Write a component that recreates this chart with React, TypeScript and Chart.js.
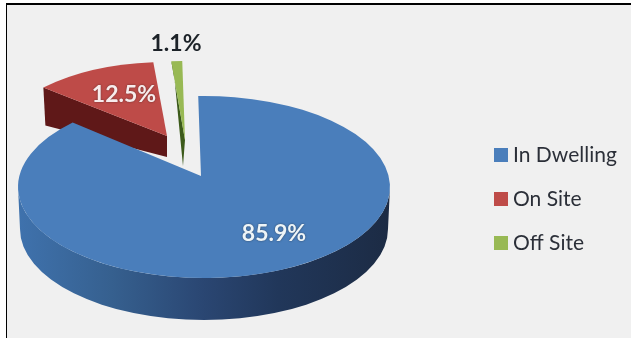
import React, { useEffect, useRef } from "react";
import { Chart, registerables } from "chart.js";

Chart.register(...registerables);

const categories = ["In Dwelling", "On Site", "Off Site"];
const shares = [85.9, 12.5, 1.1];
const topColors = ["#4a7ebb", "#be4b48", "#98b954"];
const labelColors = ["#eef5f8", "#f8ecec", "#1c2228"];

const FONT = "Lato, 'Open Sans', sans-serif";
const WIDTH = 631;
const HEIGHT = 338;

// Projected geometry of each exploded slice: ellipse of the top face, apex, and extrusion depths.
const sliceGeometry = [
  { cx: 204, cy: 187, rx: 186, ry: 91, vx: 201, vy: 176, squash: 0.5, depth: 42, cutOuter: 0, cutInner: 0, cutDx: 0, cutFill: "#2a4672" },
  { cx: 167, cy: 146, rx: 172, ry: 84, vx: 167, vy: 136, squash: 0.47, depth: 30, cutOuter: 38, cutInner: 21, cutDx: 0, cutFill: "#5f1818" },
  { cx: 186, cy: 152, rx: 176, ry: 91, vx: 185, vy: 140, squash: 0.5, depth: 30, cutOuter: 5, cutInner: 26, cutDx: -2, cutFill: "#3c5a1a" },
];

const labelAnchors = [
  { x: 274, y: 234, shadow: true },
  { x: 124, y: 95, shadow: true },
  { x: 176, y: 44, shadow: false },
];
const legendAnchor = { x: 494, y: 155, step: 44, box: 14, textX: 513 };

type Geo = (typeof sliceGeometry)[number];

// Point where a ray from the apex, at the slice angle, meets the top-face ellipse.
function rim(g: Geo, angle: number) {
  const dx = Math.cos(angle);
  const dy = Math.sin(angle) * g.squash;
  const ox = (g.vx - g.cx) / g.rx;
  const oy = (g.vy - g.cy) / g.ry;
  const ux = dx / g.rx;
  const uy = dy / g.ry;
  const a = ux * ux + uy * uy;
  const b = 2 * (ox * ux + oy * uy);
  const c = ox * ox + oy * oy - 1;
  const t = (-b + Math.sqrt(b * b - 4 * a * c)) / (2 * a);
  const x = g.vx + t * dx;
  const y = g.vy + t * dy;
  return { x, y, phi: Math.atan2((y - g.cy) / g.ry, (x - g.cx) / g.rx) };
}

const pie3d = {
  id: "pie3d",
  beforeDraw(chart: Chart) {
    const { ctx } = chart;
    ctx.save();
    ctx.fillStyle = "#ffffff";
    ctx.fillRect(0, 0, WIDTH, HEIGHT);
    ctx.fillStyle = "#f0f0f0";
    ctx.fillRect(6, 3, WIDTH - 6, HEIGHT - 3);
    ctx.fillStyle = "#000000";
    ctx.fillRect(6, 3, WIDTH - 6, 2);
    ctx.fillRect(6, 3, 1, HEIGHT - 3);
    ctx.restore();
  },
  beforeDatasetsDraw(chart: Chart) {
    const { ctx } = chart;
    const arcs = chart.getDatasetMeta(0).data as any[];
    ctx.save();
    // Painted far to near so the large slice overlaps the exploded ones.
    [2, 1, 0].forEach((i) => {
      const g = sliceGeometry[i];
      const start = rim(g, arcs[i].startAngle);
      const end = rim(g, arcs[i].endAngle);
      const phiStart = start.phi;
      let phiEnd = end.phi;
      while (phiEnd < phiStart) phiEnd += Math.PI * 2;

      if (g.cutOuter > 0) {
        // Exposed cut face under the slice's counter-clockwise edge.
        ctx.fillStyle = g.cutFill;
        ctx.beginPath();
        ctx.moveTo(start.x, start.y);
        ctx.lineTo(g.vx, g.vy);
        ctx.lineTo(g.vx + g.cutDx, g.vy + g.cutInner);
        ctx.lineTo(start.x + 2, start.y + g.cutOuter);
        ctx.closePath();
        ctx.fill();
      }

      const wallFrom = Math.max(phiStart, 0);
      const wallTo = Math.min(phiEnd, Math.PI);
      if (wallTo > wallFrom) {
        // Curved outer wall, darkening from left to right.
        const grad = ctx.createLinearGradient(g.cx - g.rx, 0, g.cx + g.rx, 0);
        grad.addColorStop(0, "#3f72ad");
        grad.addColorStop(0.25, "#36608f");
        grad.addColorStop(0.5, "#2a4672");
        grad.addColorStop(0.7, "#21375a");
        grad.addColorStop(1, "#1c2b44");
        ctx.fillStyle = grad;
        ctx.beginPath();
        ctx.ellipse(g.cx, g.cy, g.rx, g.ry, 0, wallFrom, wallTo);
        ctx.ellipse(g.cx, g.cy + g.depth, g.rx - 2, g.ry, 0, wallTo, wallFrom, true);
        ctx.closePath();
        ctx.fill();
      }

      ctx.fillStyle = arcs[i].options.backgroundColor;
      ctx.beginPath();
      ctx.moveTo(g.vx, g.vy);
      ctx.lineTo(start.x, start.y);
      ctx.ellipse(g.cx, g.cy, g.rx, g.ry, 0, phiStart, phiEnd);
      ctx.closePath();
      ctx.fill();
    });
    ctx.restore();
    return false;
  },
  afterDraw(chart: Chart) {
    const { ctx } = chart;
    const values = chart.data.datasets[0].data as number[];
    ctx.save();
    ctx.textBaseline = "middle";

    ctx.font = `700 23px ${FONT}`;
    ctx.textAlign = "center";
    values.forEach((v, i) => {
      const a = labelAnchors[i];
      ctx.shadowColor = a.shadow ? "rgba(30,30,30,0.6)" : "transparent";
      ctx.shadowBlur = a.shadow ? 2 : 0;
      ctx.fillStyle = labelColors[i];
      ctx.fillText(`${v.toFixed(1)}%`, a.x, a.y);
    });
    ctx.shadowColor = "transparent";
    ctx.shadowBlur = 0;

    ctx.textAlign = "left";
    ctx.font = `400 21px ${FONT}`;
    (chart.data.labels as string[]).forEach((name, i) => {
      const y = legendAnchor.y + i * legendAnchor.step;
      ctx.fillStyle = topColors[i];
      ctx.fillRect(legendAnchor.x, y - legendAnchor.box / 2, legendAnchor.box, legendAnchor.box);
      ctx.fillStyle = "#2b2f38";
      ctx.fillText(name, legendAnchor.textX, y);
    });
    ctx.restore();
  },
};

export default function App() {
  const canvasRef = useRef<HTMLCanvasElement>(null);

  useEffect(() => {
    const chart = new Chart(canvasRef.current!, {
      type: "pie",
      data: {
        labels: categories,
        datasets: [{ data: shares, backgroundColor: topColors, borderWidth: 0 }],
      },
      options: {
        responsive: false,
        animation: false,
        rotation: -1,
        plugins: { legend: { display: false }, tooltip: { enabled: false } },
      },
      plugins: [pie3d],
    });
    return () => chart.destroy();
  }, []);

  return (
    <canvas
      ref={canvasRef}
      width={WIDTH}
      height={HEIGHT}
      style={{ position: "fixed", left: 0, top: 0, display: "block" }}
    />
  );
}
